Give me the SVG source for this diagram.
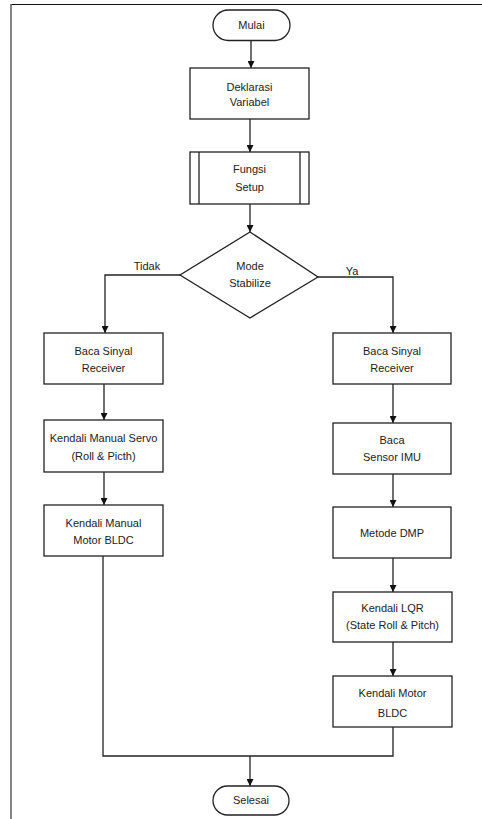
<svg xmlns="http://www.w3.org/2000/svg" width="482" height="819" viewBox="0 0 482 819">
<style>
.box{fill:#fff;stroke:#222;stroke-width:1.3}
.ln{fill:none;stroke:#222;stroke-width:1.3}
.ar{fill:none;stroke:#222;stroke-width:1.3;marker-end:url(#ah)}
text{font-family:"Liberation Sans",Arial,sans-serif;font-size:11px;fill:#222;text-anchor:middle}
</style>
<defs>
<marker id="ah" viewBox="0 0 8 8" refX="8" refY="4" markerWidth="7" markerHeight="7" markerUnits="userSpaceOnUse" orient="auto">
<path d="M0,0 L8,4 L0,8 Z" fill="#111"/>
</marker>
</defs>
<g id="frame">
<line x1="11" y1="4.5" x2="482" y2="4.5" stroke="#111" stroke-width="1.2"/>
<line x1="11" y1="4" x2="11" y2="819" stroke="#666" stroke-width="1.6"/>
</g>
<g id="connectors">
<line class="ar" x1="251" y1="41" x2="251" y2="68"/>
<line class="ar" x1="250" y1="119" x2="250" y2="152"/>
<line class="ar" x1="250" y1="204" x2="250" y2="232"/>
<polyline class="ar" points="180,275 105,275 105,333"/>
<polyline class="ar" points="318,277 393,277 393,333"/>
<line class="ar" x1="104" y1="384" x2="104" y2="420"/>
<line class="ar" x1="104" y1="472" x2="104" y2="505"/>
<line class="ar" x1="393" y1="384" x2="393" y2="423"/>
<line class="ar" x1="393" y1="474" x2="393" y2="507"/>
<line class="ar" x1="393" y1="558" x2="393" y2="592"/>
<line class="ar" x1="393" y1="642" x2="393" y2="676"/>
<polyline class="ln" points="103,556 103,756 393,756 393,727"/>
<line class="ar" x1="250" y1="756" x2="250" y2="786"/>
<text x="147" y="270">Tidak</text>
<text x="352" y="275">Ya</text>
</g>
<g id="mulai">
<rect class="box" x="213" y="10" width="77" height="30.5" rx="15.25"/>
<text x="251.5" y="29">Mulai</text>
</g>
<g id="deklarasi">
<rect class="box" x="190" y="68" width="119" height="51"/>
<text x="249.5" y="91">Deklarasi</text>
<text x="249.5" y="106">Variabel</text>
</g>
<g id="fungsi">
<rect class="box" x="190" y="152" width="119" height="52"/>
<line class="ln" x1="199" y1="152" x2="199" y2="204"/>
<line class="ln" x1="300" y1="152" x2="300" y2="204"/>
<text x="249.5" y="173">Fungsi</text>
<text x="249.5" y="191">Setup</text>
</g>
<g id="mode">
<polygon class="box" points="250,232 318,277 250,318 180,275"/>
<text x="250" y="270">Mode</text>
<text x="250" y="287">Stabilize</text>
</g>
<g id="l1">
<rect class="box" x="44" y="333" width="119" height="51"/>
<text x="103.5" y="355">Baca Sinyal</text>
<text x="103.5" y="372">Receiver</text>
</g>
<g id="l2">
<rect class="box" x="44" y="420" width="119" height="52"/>
<text x="103.5" y="442">Kendali Manual Servo</text>
<text x="103.5" y="460">(Roll &amp; Picth)</text>
</g>
<g id="l3">
<rect class="box" x="44" y="505" width="119" height="51"/>
<text x="103.5" y="527">Kendali Manual</text>
<text x="103.5" y="544">Motor BLDC</text>
</g>
<g id="r1">
<rect class="box" x="333" y="333" width="118" height="51"/>
<text x="392" y="355">Baca Sinyal</text>
<text x="392" y="372">Receiver</text>
</g>
<g id="r2">
<rect class="box" x="333" y="423" width="118" height="51"/>
<text x="392" y="444">Baca</text>
<text x="392" y="461">Sensor IMU</text>
</g>
<g id="r3">
<rect class="box" x="333" y="507" width="118" height="51"/>
<text x="392" y="537">Metode DMP</text>
</g>
<g id="r4">
<rect class="box" x="333" y="592" width="119" height="50"/>
<text x="392.5" y="612">Kendali LQR</text>
<text x="392.5" y="629">(State Roll &amp; Pitch)</text>
</g>
<g id="r5">
<rect class="box" x="333" y="676" width="119" height="51"/>
<text x="392.5" y="697">Kendali Motor</text>
<text x="392.5" y="717">BLDC</text>
</g>
<g id="selesai">
<rect class="box" x="213" y="786" width="76" height="29" rx="14.5"/>
<text x="251" y="804">Selesai</text>
</g>
</svg>
